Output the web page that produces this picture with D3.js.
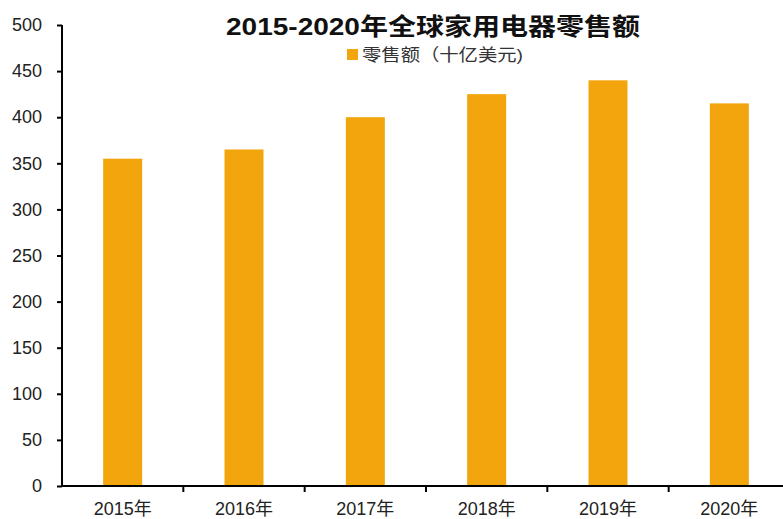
<!DOCTYPE html>
<html><head><meta charset="utf-8">
<script src="https://cdn.jsdelivr.net/npm/d3@7"></script>
<style>html,body{margin:0;padding:0;background:#fff;}svg{display:block;}</style>
</head><body>
<svg id="chart" width="783" height="519"></svg>
<script>
const categories = ["2015年","2016年","2017年","2018年","2019年","2020年"];
const values = [355, 365, 400, 425, 440, 415];
const yTicks = [0,50,100,150,200,250,300,350,400,450,500];
const title = "2015-2020年全球家用电器零售额";
const seriesName = "零售额（十亿美元)";

const svg = d3.select("#chart");
const margin = {left: 62, top: 25, bottom: 486, right: 790};
const xb = d3.scaleBand().domain(categories).range([margin.left, margin.right]);
const y = d3.scaleLinear().domain([0,500]).range([margin.bottom, margin.top]);
const color = "#F2A50C";
const font = "'Liberation Sans', Arial, 'Noto Sans CJK SC', sans-serif";

svg.append("g").selectAll("rect").data(values).join("rect")
  .attr("x", (d,i) => xb(categories[i]) + xb.bandwidth()/2 - 19.5)
  .attr("width", 39)
  .attr("y", d => y(d))
  .attr("height", d => y(0) - y(d))
  .attr("fill", color);

// y axis
const ya = svg.append("g").attr("transform", `translate(${margin.left},0)`)
  .call(d3.axisLeft(y).tickValues(yTicks).tickSize(5).tickPadding(15));
ya.select(".domain").attr("stroke", "#000").attr("stroke-width", 2).attr("d", `M0,${y(500)}V${y(0)}`);
ya.selectAll(".tick line").attr("stroke", "#000").attr("stroke-width", 2);
ya.selectAll(".tick text").attr("font-family", font).attr("font-size", 18).attr("fill", "#222");

// x axis
const xa = svg.append("g").attr("transform", `translate(0,${margin.bottom})`)
  .call(d3.axisBottom(xb).tickSize(0).tickPadding(16));
xa.select(".domain").attr("stroke", "#000").attr("stroke-width", 2).attr("d", `M${margin.left},0H${margin.right}`);
xa.selectAll(".tick text").attr("font-family", font).attr("font-size", 18).attr("fill", "#222");
xa.append("g").selectAll("line").data(categories.slice(1)).join("line")
  .attr("x1", d => xb(d)).attr("x2", d => xb(d))
  .attr("y1", 0).attr("y2", 6).attr("stroke", "#000").attr("stroke-width", 2);

// title
svg.append("text").attr("x", 226).attr("y", 35)
  .attr("textLength", 414).attr("lengthAdjust", "spacingAndGlyphs")
  .attr("font-family", font)
  .attr("font-weight", "bold").attr("font-size", 24).attr("fill", "#111")
  .text(title);

// legend
svg.append("rect").attr("x", 347).attr("y", 49).attr("width", 11).attr("height", 11).attr("fill", color);
svg.append("text").attr("x", 362).attr("y", 61)
  .attr("textLength", 161).attr("lengthAdjust", "spacingAndGlyphs")
  .attr("font-family", font).attr("font-size", 17).attr("fill", "#333")
  .text(seriesName);
</script>
</body></html>
